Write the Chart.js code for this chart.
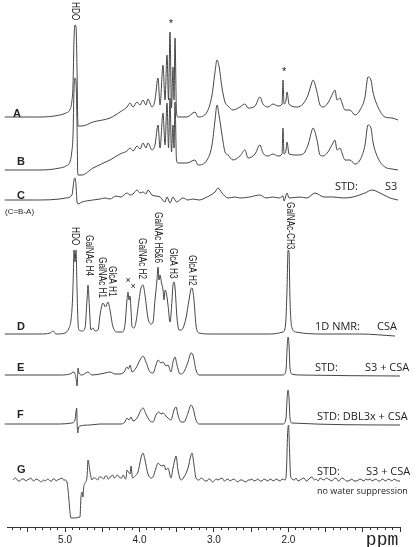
<!DOCTYPE html>
<html>
<head>
<meta charset="utf-8">
<script src="https://cdn.jsdelivr.net/npm/chart.js@4"></script>
<style>
  html, body { margin: 0; padding: 0; background: #fff; }
  #wrap { width: 416px; height: 547px; position: relative; }
</style>
</head>
<body>
<div id="wrap"><canvas id="nmrChart"></canvas></div>
<script>
// spectra as [ppm, intensity] pairs, intensity relative to each trace's own baseline
const specA = [[5.81,0],[5.34,0],[5.07,2],[4.99,4],[4.93,8],[4.91,15],[4.893,32],[4.88,77],[4.866,92],[4.853,90],[4.839,47],[4.831,2],[4.826,-9],[4.772,-9],[4.625,-5],[4.396,-1],[4.262,5],[4.168,10],[4.127,14],[4.087,10],[4.033,15],[3.993,12],[3.953,17],[3.913,12],[3.886,18],[3.832,10],[3.792,17],[3.751,39],[3.724,12],[3.684,52],[3.657,17],[3.63,62],[3.61,17],[3.59,85],[3.57,9],[3.55,50],[3.536,17],[3.523,79],[3.503,5],[3.483,0],[3.362,0],[3.254,5],[3.214,0],[3.093,5],[3.026,22],[2.985,45],[2.959,57],[2.932,51],[2.891,29],[2.851,15],[2.811,11],[2.744,7],[2.65,10],[2.583,13],[2.542,9],[2.448,11],[2.381,20],[2.341,13],[2.273,10],[2.206,13],[2.139,11],[2.085,13],[2.072,37],[2.058,13],[2.031,17],[2.018,25],[1.991,13],[1.884,10],[1.803,13],[1.736,22],[1.682,35],[1.669,37],[1.615,25],[1.575,12],[1.535,10],[1.468,14],[1.4,24],[1.373,27],[1.347,17],[1.306,19],[1.279,14],[1.239,7],[1.172,7],[1.105,2],[1.037,7],[0.97,20],[0.93,40],[0.89,37],[0.863,25],[0.796,10],[0.702,0],[0.608,-1],[0.527,-3]];
const specB = [[5.81,0],[5.34,0],[5.07,2],[4.99,4],[4.93,9],[4.91,18],[4.893,35],[4.88,80],[4.866,92],[4.853,88],[4.839,45],[4.831,0],[4.826,-5],[4.772,-5],[4.625,2],[4.396,10],[4.262,16],[4.168,19],[4.127,22],[4.087,19],[4.033,24],[3.993,21],[3.953,27],[3.913,22],[3.886,27],[3.832,20],[3.792,25],[3.751,45],[3.724,22],[3.684,57],[3.657,25],[3.63,67],[3.61,22],[3.59,72],[3.57,18],[3.55,45],[3.536,22],[3.523,68],[3.503,10],[3.483,7],[3.362,7],[3.254,10],[3.214,5],[3.093,10],[3.026,25],[2.985,50],[2.959,65],[2.932,55],[2.891,35],[2.851,18],[2.811,15],[2.744,10],[2.65,14],[2.583,20],[2.542,12],[2.448,16],[2.381,25],[2.341,17],[2.273,14],[2.206,16],[2.139,14],[2.085,16],[2.072,42],[2.058,16],[2.031,20],[2.018,28],[1.991,16],[1.884,15],[1.803,16],[1.736,25],[1.682,40],[1.669,42],[1.615,30],[1.575,15],[1.535,14],[1.468,18],[1.4,27],[1.373,30],[1.347,20],[1.306,22],[1.279,17],[1.239,10],[1.172,10],[1.105,6],[1.037,10],[0.97,25],[0.93,45],[0.89,42],[0.863,28],[0.796,12],[0.702,3],[0.608,1],[0.527,0]];
const specC = [[5.81,0],[5.34,0],[5.07,1],[4.99,2],[4.907,5],[4.893,12],[4.88,20],[4.866,22],[4.853,15],[4.839,-2],[4.826,-4],[4.772,-2],[4.625,0],[4.53,1],[4.463,2],[4.396,1],[4.316,4],[4.25,3],[4.168,7],[4.127,5],[4.087,6],[4.033,10],[3.993,7],[3.953,8],[3.913,6],[3.886,10],[3.832,5],[3.724,3],[3.657,-2],[3.63,3],[3.59,-3],[3.55,3],[3.503,-2],[3.415,2],[3.35,0],[3.281,1],[3.2,0],[3.093,3],[2.985,8],[2.945,12],[2.891,7],[2.811,2],[2.72,3],[2.65,2],[2.52,3],[2.381,5],[2.3,2],[2.206,3],[2.12,2],[2.072,4],[2.058,-1],[2.018,7],[1.991,2],[1.843,3],[1.75,2],[1.642,7],[1.52,3],[1.4,3],[1.26,2],[1.132,3],[0.97,7],[0.876,10],[0.769,7],[0.634,2],[0.527,0]];
const specD = [[5.81,0],[5.34,0],[5.2,1],[5.162,3],[5.122,0],[5.0,1],[4.947,6],[4.92,14],[4.9,34],[4.887,64],[4.88,84],[4.866,72],[4.853,84],[4.839,44],[4.826,12],[4.813,4],[4.772,3],[4.732,6],[4.705,34],[4.692,49],[4.678,34],[4.658,6],[4.651,4],[4.625,6],[4.598,3],[4.557,4],[4.53,19],[4.504,29],[4.49,31],[4.457,27],[4.423,32],[4.396,24],[4.356,7],[4.289,2],[4.235,2],[4.195,9],[4.168,34],[4.154,42],[4.141,34],[4.127,38],[4.114,24],[4.1,7],[4.074,6],[4.047,12],[4.006,34],[3.98,46],[3.953,49],[3.926,39],[3.886,16],[3.845,10],[3.818,12],[3.792,34],[3.765,54],[3.751,67],[3.738,54],[3.724,59],[3.704,51],[3.684,44],[3.671,34],[3.657,44],[3.637,40],[3.617,29],[3.59,12],[3.563,34],[3.55,49],[3.536,52],[3.523,47],[3.496,16],[3.469,4],[3.442,4],[3.415,6],[3.375,16],[3.335,34],[3.308,45],[3.294,46],[3.268,34],[3.241,9],[3.2,1],[3.05,0],[2.25,0],[2.072,2],[2.038,9],[2.018,44],[2.004,84],[1.991,82],[1.978,34],[1.951,6],[1.897,2],[1.55,0],[1.04,0],[0.567,-2]];
const specE = [[5.81,0],[5.07,0],[4.934,1],[4.88,3],[4.853,-3],[4.839,-11],[4.833,-5],[4.826,7],[4.813,2],[4.772,0],[4.692,3],[4.638,0],[4.53,1],[4.463,2],[4.396,3],[4.329,1],[4.262,1],[4.208,3],[4.168,8],[4.148,6],[4.127,10],[4.1,3],[4.047,7],[3.993,15],[3.953,19],[3.913,13],[3.859,3],[3.818,2],[3.778,10],[3.751,15],[3.711,12],[3.684,13],[3.644,9],[3.617,10],[3.577,3],[3.55,13],[3.523,18],[3.496,10],[3.456,1],[3.415,2],[3.348,13],[3.308,22],[3.281,20],[3.241,5],[3.2,0],[2.072,0],[2.031,5],[2.018,25],[2.004,38],[1.991,30],[1.978,7],[1.951,1],[1.843,0],[0.5,-1]];
const specF = [[5.81,0],[5.07,0],[4.907,1],[4.866,4],[4.853,12],[4.844,16],[4.837,-1],[4.829,-9],[4.819,-4],[4.799,-2],[4.665,-1],[4.53,0],[4.262,0],[4.195,2],[4.168,6],[4.141,4],[4.114,7],[4.087,3],[4.033,6],[3.98,14],[3.953,16],[3.913,10],[3.859,3],[3.818,2],[3.778,9],[3.738,12],[3.711,10],[3.684,11],[3.644,8],[3.617,6],[3.577,4],[3.536,14],[3.509,17],[3.483,9],[3.442,2],[3.402,2],[3.348,11],[3.308,19],[3.281,16],[3.241,4],[3.2,0],[2.072,0],[2.031,6],[2.018,24],[2.004,34],[1.991,26],[1.978,6],[1.951,1],[0.5,-1]];
const specG = [[5.7,0],[5.67,2],[5.65,1],[5.63,-1],[5.61,-1],[5.58,1],[5.55,1],[5.53,-1],[5.51,0],[5.48,1],[5.46,2],[5.44,0],[5.42,-1],[5.39,1],[5.36,0],[5.34,-1],[5.32,-2],[5.29,0],[5.27,-1],[5.25,0],[5.23,1],[5.2,-1],[5.18,-1],[5.16,1],[5.14,1],[5.12,-1],[5.1,0],[5.07,1],[5.04,2],[5.02,0],[5.0,0],[4.974,-2],[4.96,-10],[4.92,-38],[4.8,-37],[4.786,-17],[4.772,-12],[4.759,-17],[4.752,-9],[4.732,-3],[4.705,3],[4.692,20],[4.665,8],[4.638,0],[4.62,2],[4.6,2],[4.58,1],[4.56,0],[4.54,3],[4.52,3],[4.5,2],[4.48,1],[4.46,4],[4.44,4],[4.42,1],[4.4,2],[4.38,4],[4.36,5],[4.34,2],[4.32,3],[4.3,5],[4.28,4],[4.26,2],[4.24,2],[4.22,5],[4.21,4],[4.19,1],[4.18,2],[4.168,10],[4.148,8],[4.127,6],[4.114,14],[4.094,2],[4.06,4],[4.02,8],[3.98,22],[3.953,27],[3.926,20],[3.886,6],[3.845,2],[3.818,3],[3.778,12],[3.751,17],[3.724,15],[3.698,14],[3.671,15],[3.644,10],[3.617,12],[3.577,2],[3.55,12],[3.523,21],[3.509,24],[3.483,10],[3.442,0],[3.402,3],[3.348,12],[3.308,25],[3.294,27],[3.268,15],[3.241,2],[3.2,0],[3.17,2],[3.147,1],[3.12,-1],[3.093,-1],[3.07,1],[3.053,1],[3.02,-2],[2.999,-1],[2.97,1],[2.945,0],[2.92,1],[2.891,2],[2.86,-1],[2.838,0],[2.81,1],[2.784,-1],[2.76,0],[2.73,1],[2.7,-1],[2.676,-2],[2.65,0],[2.623,0],[2.6,-1],[2.569,-2],[2.54,0],[2.515,0],[2.49,1],[2.462,-1],[2.43,0],[2.408,1],[2.38,-1],[2.354,-1],[2.33,1],[2.3,0],[2.27,-1],[2.247,1],[2.22,0],[2.193,-1],[2.17,1],[2.139,0],[2.11,-1],[2.085,1],[2.045,0],[2.025,10],[2.011,45],[1.998,55],[1.984,30],[1.971,5],[1.951,1],[1.92,0],[1.897,2],[1.87,-1],[1.843,0],[1.82,1],[1.79,2],[1.76,-1],[1.736,0],[1.71,2],[1.682,3],[1.65,0],[1.629,1],[1.6,-1],[1.575,2],[1.55,1],[1.521,0],[1.49,2],[1.467,1],[1.44,0],[1.414,-1],[1.39,1],[1.36,2],[1.33,-1],[1.306,0],[1.28,2],[1.252,1],[1.22,-1],[1.199,-1],[1.17,0],[1.145,1],[1.12,-1],[1.091,-1],[1.06,0],[1.037,1],[1.01,0],[0.984,-1],[0.96,1],[0.93,0],[0.9,1],[0.876,-1],[0.85,0],[0.822,1],[0.79,-1],[0.769,-1],[0.74,1],[0.715,0],[0.69,-1],[0.661,1],[0.63,0],[0.607,-1],[0.58,1],[0.554,0],[0.53,-1],[0.5,-1]];

const traceNames = ['A', 'B', 'C', 'D', 'E', 'F', 'G'];
const traces = [specA, specB, specC, specD, specE, specF, specG];
// vertical stacking offset of each trace (y units)
const stackOffset = [410, 357, 327, 193, 152, 103, 47];

const axisLabels = ['5.0', '4.0', '3.0', '2.0'];

// text annotations: [text, ppm, y, rotated, font]
const narrow = '"Liberation Sans", Arial, sans-serif';
const sans = '"Open Sans", "Noto Sans", sans-serif';
const notes = [
  ['HDO', 4.866, 525, true, '10px ' + narrow],
  ['*', 3.577, 503, false, '11px Arial'],
  ['*', 2.058, 455, false, '11px Arial'],
  ['A', 5.699, 413, false, 'bold 11px Arial'],
  ['B', 5.646, 365, false, 'bold 11px Arial'],
  ['C', 5.646, 331, false, 'bold 11px Arial'],
  ['(C=B-A)', 5.807, 315, false, '8px Arial'],
  ['D', 5.646, 200, false, 'bold 11px Arial'],
  ['E', 5.646, 159, false, 'bold 11px Arial'],
  ['F', 5.646, 112, false, 'bold 11px Arial'],
  ['G', 5.646, 57, false, 'bold 11px Arial'],
  ['STD:', 1.373, 340, false, '11px ' + sans],
  ['S3', 0.701, 340, false, '11px ' + sans],
  ['1D NMR:', 1.642, 200, false, '11px ' + sans],
  ['CSA', 0.809, 200, false, '11px ' + sans],
  ['STD:', 1.642, 159, false, '11px ' + sans],
  ['S3 + CSA', 0.97, 159, false, '11px ' + sans],
  ['STD: DBL3x + CSA', 1.615, 110, false, '11px ' + sans],
  ['STD:', 1.615, 55, false, '11px ' + sans],
  ['S3 + CSA', 0.957, 55, false, '11px ' + sans],
  ['no water suppression', 1.615, 36, false, '9px ' + sans],
  ['HDO', 4.866, 300, true, '10px ' + narrow],
  ['GalNAc H4', 4.678, 292, true, '10px ' + narrow],
  ['GalNAc H1', 4.504, 270, true, '10px ' + narrow],
  ['GlcA H1', 4.369, 261, true, '10px ' + narrow],
  ['×', 4.154, 246, false, '9px Arial'],
  ['×', 4.087, 240, false, '9px Arial'],
  ['GalNAc H2', 3.966, 289, true, '10px ' + narrow],
  ['GalNAc H5&6', 3.751, 315, true, '10px ' + narrow],
  ['GlcA H3', 3.55, 279, true, '10px ' + narrow],
  ['GlcA H2', 3.294, 272, true, '10px ' + narrow],
  ['GalNAc-CH3', 1.978, 325, true, '10px ' + narrow],
  ['ppm', 0.959, -13, false, '18px "Liberation Mono", "DejaVu Sans Mono", monospace']
];

const notesPlugin = {
  id: 'notes',
  afterDraw(chart) {
    const c = chart.ctx;
    const xs = chart.scales.x, ys = chart.scales.y;
    c.save();
    c.fillStyle = '#222';
    notes.forEach(([txt, p, v, rot, font]) => {
      const px = xs.getPixelForValue(p);
      const py = ys.getPixelForValue(v);
      c.font = font;
      c.save();
      c.translate(px, py);
      if (rot) {
        // vertical peak labels use a condensed look
        c.rotate(Math.PI / 2);
        c.scale(0.82, 1);
        c.textAlign = 'left';
      } else {
        c.textAlign = (txt === '*' || txt === '×') ? 'center' : 'left';
      }
      c.textBaseline = 'middle';
      c.fillText(txt, 0, 0);
      c.restore();
    });
    c.restore();
  }
};

const datasets = traces.map((s, i) => ({
  label: traceNames[i],
  data: s.map(([p, v]) => ({ x: p, y: v + stackOffset[i] })),
  borderColor: '#454545',
  borderWidth: 1,
  pointRadius: 0,
  cubicInterpolationMode: 'monotone',
  clip: false
}));

const ctx = document.getElementById('nmrChart').getContext('2d');
const nmrChart = new Chart(ctx, {
  type: 'line',
  data: { datasets: datasets },
  options: {
    responsive: true,
    maintainAspectRatio: false,
    animation: false,
    layout: { padding: { left: 7, right: 16, top: 0, bottom: 0 } },
    plugins: { legend: { display: false }, tooltip: { enabled: false } },
    scales: {
      x: {
        type: 'linear',
        reverse: true,
        min: 0.5,
        max: 5.78,
        afterFit: (scale) => { scale.height = 20; },
        border: { color: '#333', width: 1 },
        grid: { drawOnChartArea: false, tickLength: 5, tickColor: '#333' },
        ticks: {
          stepSize: 0.5,
          includeBounds: false,
          autoSkip: false,
          maxRotation: 0,
          padding: 2,
          color: '#222',
          font: { family: 'Arial', size: 10 },
          callback: (v) => {
            const s = Number(v).toFixed(1);
            return axisLabels.includes(s) ? s : '';
          }
        }
      },
      x2: {
        type: 'linear',
        axis: 'x',
        position: { y: 0 },
        reverse: true,
        min: 0.5,
        max: 5.78,
        border: { display: false },
        grid: { drawOnChartArea: false, tickLength: 3, tickColor: '#333' },
        ticks: { stepSize: 0.1, includeBounds: false, autoSkip: false, display: false }
      },
      y: {
        display: false,
        min: 0,
        max: 527
      }
    }
  },
  plugins: [notesPlugin]
});
</script>
</body>
</html>
